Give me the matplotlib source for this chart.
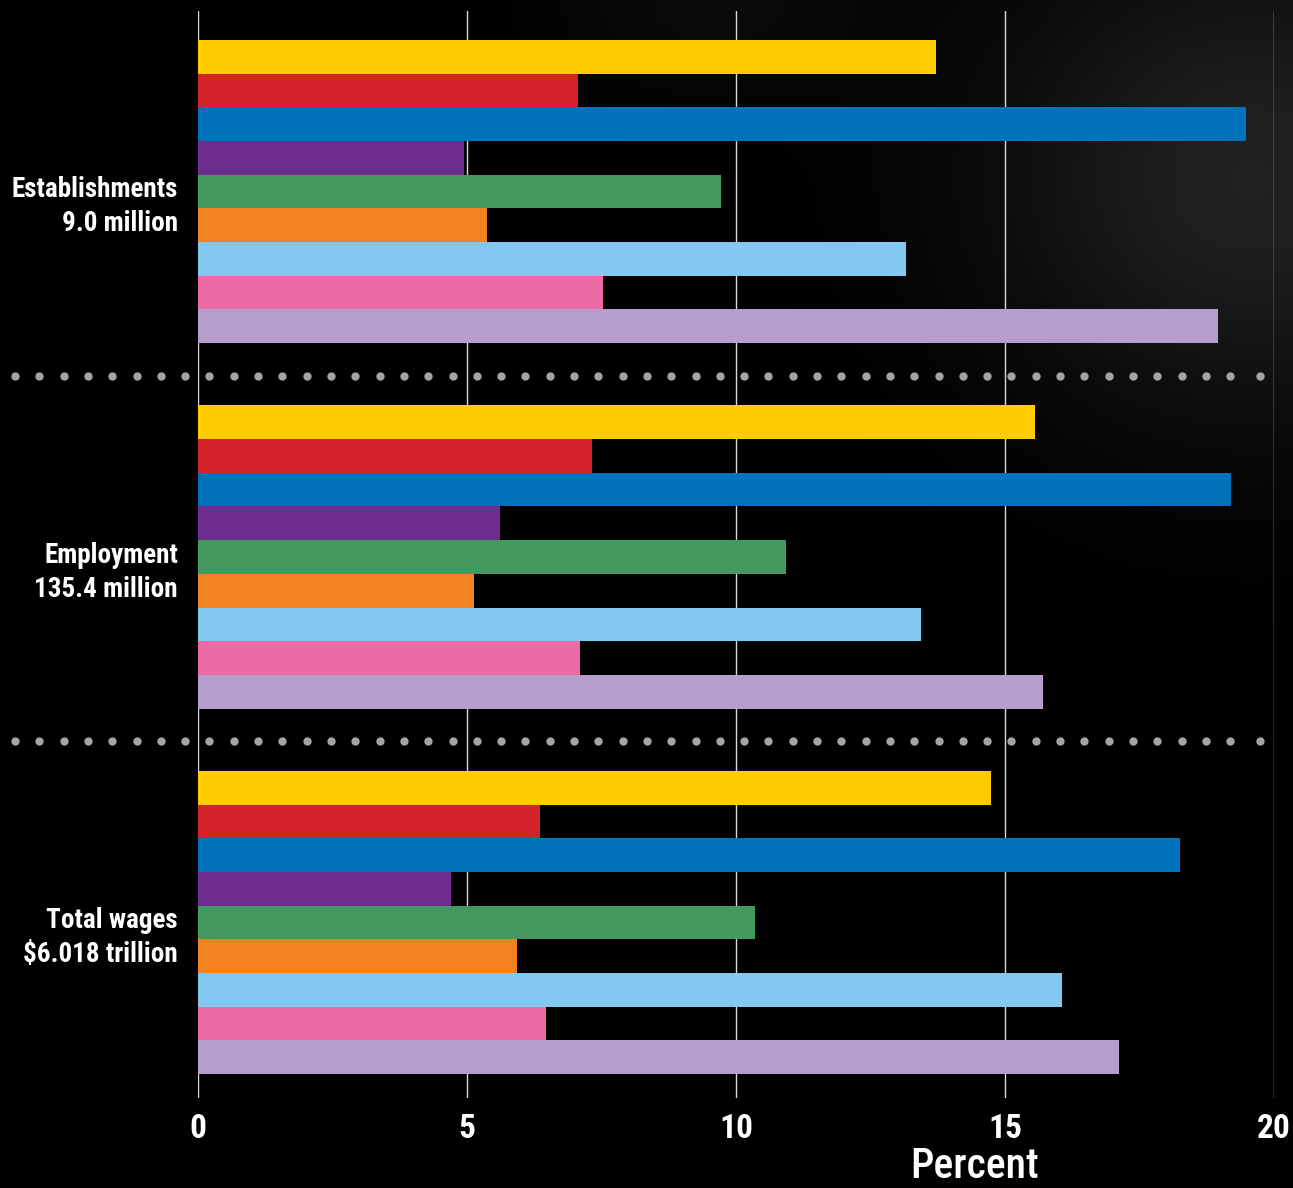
import matplotlib
matplotlib.use("Agg")
import matplotlib.pyplot as plt
from matplotlib import font_manager
import numpy as np

# group labels and values (percent), bars top to bottom inside each group
groups = ["Establishments\n9.0 million", "Employment\n135.4 million", "Total wages\n$6.018 trillion"]
colors = ["#FFCC00", "#D2232A", "#0072BC", "#6F2C8F", "#43995F",
          "#F58220", "#82C8F0", "#EE6AA7", "#B59ECB"]
establishments = [13.72, 7.06, 19.48, 4.94, 9.72, 5.37, 13.16, 7.53, 18.96]
employment = [15.56, 7.32, 19.20, 5.61, 10.93, 5.13, 13.44, 7.10, 15.71]
wages = [14.74, 6.36, 18.25, 4.70, 10.35, 5.93, 16.06, 6.47, 17.12]
xticks = [0, 5, 10, 15, 20]

values = [establishments, employment, wages]
group_step = 10.85  # 9 bars + gap

# look for a narrow font, the original uses a condensed face
names = set(f.name for f in font_manager.fontManager.ttflist)
scale = 1.0
if "Roboto Condensed" in names:
    fam = "Roboto Condensed"
elif "Liberation Sans Narrow" in names:
    fam = "Liberation Sans Narrow"
else:
    fam = "DejaVu Sans"
    scale = 0.8
plt.rcParams['font.family'] = [fam, 'DejaVu Sans']

fig = plt.figure(figsize=(12.93, 11.88), dpi=100, facecolor="black")

# faint photo-like background in the top right corner
bg = fig.add_axes([0, 0, 1, 1], zorder=-5)
bg.set_axis_off()
gx, gy = np.meshgrid(np.linspace(0, 1, 300), np.linspace(0, 1, 300))
blob = np.exp(-(((gx - 0.97) / 0.2) ** 2 + ((gy - 0.85) / 0.2) ** 2))
blob2 = 0.5 * np.exp(-(((gx - 0.55) / 0.12) ** 2 + ((gy - 1.0) / 0.08) ** 2))
shade = np.clip(blob * 0.13 + blob2 * 0.08, 0, 1)
img = np.dstack([shade, shade, shade * 1.08])
bg.imshow(np.clip(img, 0, 1), extent=[0, 1, 0, 1], origin="lower", aspect="auto")
bg.set_xlim(0, 1)
bg.set_ylim(0, 1)

ax = fig.add_axes([198 / 1293, 90 / 1188, (1274 - 198) / 1293, (1177 - 90) / 1188])
ax.set_facecolor("none")

for g, vals in enumerate(values):
    ys = g * group_step + np.arange(len(vals))
    ax.barh(ys, vals, height=1.0, color=colors, zorder=3, linewidth=0)
    ax.text(-0.37, ys.mean() + 0.45, groups[g], ha="right", va="center",
            color="white", fontsize=19.5 * scale, fontweight="bold", linespacing=1.35)

for t in xticks:
    ax.axvline(t, color="#d8d8d8", lw=1.0, zorder=1)

# dotted separators between groups
dots_x = np.arange(-3.4, 19.3, 0.4517)
dots_x = np.append(dots_x, 19.74)
for g in range(1, len(values)):
    ysep = g * group_step - 0.5 - (group_step - 9) / 2 + 0.05
    ax.plot(dots_x, np.full_like(dots_x, ysep), "o", color="#a3a3a8",
            ms=6, mec="none", clip_on=False, zorder=4)

ax.set_xlim(0, 20)
ax.set_ylim(2 * group_step + 8 + 0.5 + 0.71, -0.5 - 0.86)
ax.set_yticks([])
ax.set_xticks(xticks)
ax.set_xticklabels([str(t) for t in xticks], color="white", fontsize=24 * scale, fontweight="bold")
ax.tick_params(axis="x", length=0, pad=11)
for s in ax.spines.values():
    s.set_visible(False)

fig.text(975 / 1293, 1 - 1166 / 1188, "Percent", ha="center", va="center",
         color="white", fontsize=30 * scale, fontweight="medium")

fig.savefig("out.png", dpi=100, facecolor="black")
